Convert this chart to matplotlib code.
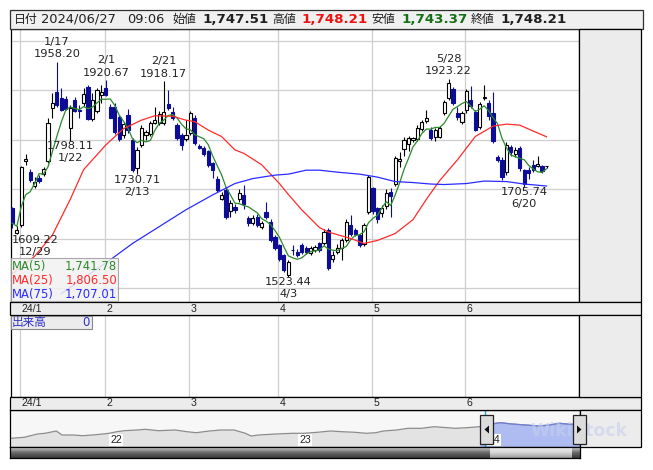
import numpy as np
import pandas as pd
import matplotlib
matplotlib.use('Agg')
import matplotlib.pyplot as plt
from matplotlib.patches import Rectangle, Polygon
from matplotlib.transforms import blended_transform_factory
from matplotlib.colors import LinearSegmentedColormap

plt.rcParams['font.family'] = ['DejaVu Sans', 'Noto Sans CJK JP']

# ---------------------------------------------------------------------
# data
# ---------------------------------------------------------------------
dates = ['2023-12-28', '2023-12-29',
         '2024-01-04', '2024-01-05', '2024-01-09', '2024-01-10', '2024-01-11', '2024-01-12',
         '2024-01-15', '2024-01-16', '2024-01-17', '2024-01-18', '2024-01-19', '2024-01-22',
         '2024-01-23', '2024-01-24', '2024-01-25', '2024-01-26', '2024-01-29', '2024-01-30',
         '2024-01-31',
         '2024-02-01', '2024-02-02', '2024-02-05', '2024-02-06', '2024-02-07', '2024-02-08',
         '2024-02-09', '2024-02-13', '2024-02-14', '2024-02-15', '2024-02-16', '2024-02-19',
         '2024-02-20', '2024-02-21', '2024-02-22', '2024-02-26', '2024-02-27', '2024-02-28',
         '2024-02-29',
         '2024-03-01', '2024-03-04', '2024-03-05', '2024-03-06', '2024-03-07', '2024-03-08',
         '2024-03-11', '2024-03-12', '2024-03-13', '2024-03-14', '2024-03-15', '2024-03-18',
         '2024-03-19', '2024-03-21', '2024-03-22', '2024-03-25', '2024-03-26', '2024-03-27',
         '2024-03-28', '2024-03-29',
         '2024-04-01', '2024-04-02', '2024-04-03', '2024-04-04', '2024-04-05', '2024-04-08',
         '2024-04-09', '2024-04-10', '2024-04-11', '2024-04-12', '2024-04-15', '2024-04-16',
         '2024-04-17', '2024-04-18', '2024-04-19', '2024-04-22', '2024-04-23', '2024-04-24',
         '2024-04-25', '2024-04-26', '2024-04-30',
         '2024-05-01', '2024-05-02', '2024-05-07', '2024-05-08', '2024-05-09', '2024-05-10',
         '2024-05-13', '2024-05-14', '2024-05-15', '2024-05-16', '2024-05-17', '2024-05-20',
         '2024-05-21', '2024-05-22', '2024-05-23', '2024-05-24', '2024-05-27', '2024-05-28',
         '2024-05-29', '2024-05-30', '2024-05-31',
         '2024-06-03', '2024-06-04', '2024-06-05', '2024-06-06', '2024-06-07', '2024-06-10',
         '2024-06-11', '2024-06-12', '2024-06-13', '2024-06-14', '2024-06-17', '2024-06-18',
         '2024-06-19', '2024-06-20', '2024-06-21', '2024-06-24', '2024-06-25', '2024-06-26',
         '2024-06-27']

opens = [1662, 1613,
         1628, 1757, 1736, 1707, 1724, 1731, 1758, 1865, 1896, 1884, 1882, 1824, 1881, 1860,
         1874, 1908, 1842, 1859, 1891,
         1906, 1867, 1867, 1847, 1810, 1850, 1800, 1743, 1790, 1810, 1812, 1835, 1834, 1834,
         1872, 1856, 1831, 1810, 1802,
         1814, 1845, 1787, 1783, 1777, 1753, 1721, 1681, 1698, 1657, 1665, 1680, 1688, 1642,
         1632, 1645, 1625, 1655, 1635, 1604,
         1587, 1567, 1527, 1578, 1574, 1587, 1581, 1571, 1577, 1591, 1591, 1618, 1560, 1574,
         1581, 1598, 1628, 1618, 1608, 1589, 1655,
         1703, 1662, 1652, 1667, 1694, 1712, 1757, 1781, 1792, 1799, 1801, 1822, 1838, 1820,
         1807, 1807, 1854, 1884, 1904, 1854, 1837,
         1860, 1881, 1857, 1827, 1884, 1874, 1854, 1765, 1760, 1736, 1785, 1771, 1784, 1739,
         1739, 1749, 1747, 1748, 1747.51]
highs = [1665, 1626,
         1748, 1772, 1741, 1725, 1729, 1746, 1844, 1894, 1958.20, 1905, 1888, 1870, 1886, 1870,
         1905, 1912, 1895, 1905, 1912,
         1920.67, 1873, 1875, 1850, 1836, 1862, 1803, 1785, 1830, 1820, 1838, 1867, 1858, 1918.17,
         1900, 1867, 1835, 1815, 1840,
         1859, 1850, 1792, 1787, 1780, 1756, 1728, 1695, 1702, 1678, 1670, 1700, 1709, 1647,
         1648, 1650, 1637, 1674, 1640, 1608,
         1590, 1570, 1558, 1587, 1580, 1591, 1585, 1585, 1588, 1594, 1620, 1622, 1575, 1590,
         1602, 1640, 1648, 1622, 1611, 1632, 1730,
         1706, 1665, 1668, 1700, 1702, 1768, 1775, 1806, 1808, 1806, 1830, 1840, 1861, 1826,
         1824, 1828, 1880, 1923.22, 1908, 1867, 1858,
         1903, 1910, 1860, 1876, 1911, 1880, 1897, 1770, 1765, 1795, 1790, 1785, 1788, 1742,
         1745, 1760, 1767, 1750, 1748.21]
lows = [1622, 1609.22,
        1624, 1750, 1715, 1704, 1714, 1728, 1753, 1845, 1866, 1858, 1860, 1798.11, 1856, 1844,
        1868, 1840, 1838, 1855, 1875,
        1888, 1845, 1812, 1798, 1805, 1815, 1735, 1730.71, 1785, 1800, 1808, 1832, 1830, 1830,
        1860, 1840, 1800, 1780, 1798,
        1810, 1790, 1781, 1768, 1746, 1724, 1694, 1678, 1640, 1645, 1652, 1675, 1660, 1626,
        1628, 1624, 1620, 1641, 1594, 1577,
        1555, 1533, 1523.44, 1567, 1563, 1570, 1570, 1567, 1573, 1574, 1588, 1538, 1553, 1570,
        1557, 1594, 1607, 1606, 1584, 1585, 1650,
        1650, 1633, 1645, 1660, 1645, 1708, 1745, 1768, 1778, 1796, 1798, 1818, 1835, 1800,
        1797, 1804, 1850, 1880, 1870, 1840, 1833,
        1855, 1865, 1818, 1822, 1880, 1840, 1793, 1755, 1720, 1730, 1768, 1765, 1738, 1705.74,
        1722, 1735, 1745, 1733, 1743.37]
closes = [1632, 1619,
          1745, 1762, 1719, 1716, 1718, 1741, 1834, 1874, 1871, 1861, 1863, 1865, 1859, 1858,
          1892, 1842, 1881, 1901, 1896,
          1891, 1845, 1817, 1802, 1832, 1820, 1739, 1780, 1825, 1817, 1834, 1840, 1852, 1857,
          1864, 1844, 1805, 1790, 1810,
          1854, 1794, 1784, 1771, 1750, 1740, 1698, 1689, 1645, 1672, 1658, 1692, 1671, 1632,
          1642, 1628, 1633, 1645, 1598, 1581,
          1560, 1537, 1554, 1577, 1567, 1574, 1574, 1581, 1584, 1577, 1615, 1542, 1568, 1581,
          1598, 1635, 1611, 1611, 1588, 1628, 1726,
          1656, 1640, 1662, 1693, 1687, 1763, 1761, 1800, 1803, 1803, 1824, 1836, 1844, 1803,
          1820, 1824, 1877, 1916, 1874, 1847, 1854,
          1898, 1868, 1820, 1872, 1887, 1848, 1797, 1760, 1726, 1790, 1775, 1780, 1743, 1712,
          1733, 1740, 1750.7, 1737, 1748.21]

# moving averages 25 / 75 read at sample days (index into dates)
ma25_idx = [0, 5, 9, 13, 16, 19, 21, 25, 29, 32, 36, 39, 41, 44, 47, 50, 52, 56, 60, 62,
            65, 69, 71, 76, 79, 82, 86, 90, 93, 96, 100, 104, 108, 111, 114, 117, 120]
ma25_val = [1530, 1565, 1608, 1680, 1740, 1770, 1790, 1823, 1840, 1849, 1848, 1840, 1837,
            1820, 1807, 1780, 1773, 1750, 1712, 1690, 1659, 1623, 1614, 1601, 1591, 1597,
            1611, 1639, 1680, 1718, 1760, 1807, 1828, 1832, 1830, 1818, 1806.50]
ma75_idx = [11, 17, 22, 27, 33, 39, 45, 50, 54, 59, 62, 66, 69, 73, 78, 82, 86, 90, 94,
            97, 102, 106, 111, 115, 120]
ma75_val = [1490, 1527, 1558, 1591, 1625, 1659, 1689, 1712, 1722, 1729, 1731, 1739, 1739,
            1735, 1731, 1725, 1716, 1714, 1711, 1710, 1712, 1717, 1716, 1711, 1707.01]

# high / low marks
mark_dates = ['2024-01-17', '2024-02-01', '2024-02-21', '2024-05-28',
              '2023-12-29', '2024-01-22', '2024-02-13', '2024-04-03', '2024-06-20']
mark_kind = ['high', 'high', 'high', 'high', 'low', 'low', 'low', 'low', 'low']

month_labels = ['24/1', '2', '3', '4', '5', '6']
price_ticks = [1500, 1600, 1700, 1800, 1900, 2000]

# navigator (long history, height above the panel floor)
nav_t = [2021.48, 2021.55, 2021.62, 2021.66, 2021.72, 2021.75, 2021.81, 2021.86, 2021.93,
         2022.00, 2022.04, 2022.08, 2022.15, 2022.19, 2022.26, 2022.35, 2022.41, 2022.46,
         2022.53, 2022.59, 2022.66, 2022.72, 2022.75, 2022.79, 2022.88, 2022.97, 2023.03,
         2023.10, 2023.17, 2023.23, 2023.30, 2023.36, 2023.41, 2023.45, 2023.52, 2023.58,
         2023.65, 2023.72, 2023.76, 2023.83, 2023.89, 2023.96, 2024.02, 2024.07, 2024.13,
         2024.20, 2024.27, 2024.33, 2024.38, 2024.44, 2024.49]
nav_v = [8.7, 9.7, 13, 13.7, 16, 12, 12, 11.3, 12.3, 13.7, 15.3, 16.3, 17, 17.7, 16.3, 17,
         15.3, 14.3, 16, 17, 17, 13.7, 11, 12, 13, 13.7, 13.7, 14.7, 16, 15.3, 14.7, 13.7,
         14.3, 16, 17, 18.7, 18.7, 20.3, 19.7, 18.7, 19.3, 20.3, 23, 24.3, 23, 22, 21, 22,
         23.7, 22.7, 23]
nav_years = ['22', '23', '24']

header = [('日付', None), ('2024/06/27', None), ('09:06', None),
          ('始値', None), ('1,747.51', 'black'), ('高値', None), ('1,748.21', 'red'),
          ('安値', None), ('1,743.37', 'green'), ('終値', None), ('1,748.21', 'black')]

# ---------------------------------------------------------------------
# prep
# ---------------------------------------------------------------------
df = pd.DataFrame({'date': pd.to_datetime(dates), 'open': opens, 'high': highs,
                   'low': lows, 'close': closes})
df['x'] = np.arange(len(df)) - 1          # 12/29 sits at x = 0
df['ma5'] = df['close'].rolling(5, min_periods=1).mean()
up = df['close'] >= df['open']
month_first = df.groupby(df['date'].dt.to_period('M'))['x'].min().values[1:]

W, H = 653, 470
fig = plt.figure(figsize=(W / 100, H / 100), dpi=100)
fig.patch.set_facecolor('white')


def frac(x0, y0, x1, y1):
    return [x0 / W, 1 - y1 / H, (x1 - x0) / W, (y1 - y0) / H]


def box(x0, y0, x1, y1, **kw):
    r = Rectangle((x0 / W, 1 - y1 / H), (x1 - x0) / W, (y1 - y0) / H,
                  transform=fig.transFigure, **kw)
    fig.add_artist(r)
    return r


def ftext(x, y, s, **kw):
    return fig.text(x / W, 1 - y / H, s, **kw)


GREEN, RED, BLUE, NAVY = '#2b8a2b', '#ff2b2b', '#2b2bff', '#0c0c96'
GRID = '#cfcfcf'
PANEL = '#ececec'

# ---------------------------------------------------------------------
# header
# ---------------------------------------------------------------------
box(10, 10, 643, 28.5, facecolor='#f0f0f0', edgecolor='#303030', lw=0.9)
hx = [13.5, 41.5, 127.5, 172.5, 202, 272.5, 301, 371.5, 401, 471, 500]
hcol = {'black': '#202020', 'red': '#ee1111', 'green': '#157015'}
for (s, c), x in zip(header, hx):
    if c is None and not s[0].isdigit():
        ftext(x, 19.5, s, fontsize=8.6, va='center', color='#202020')
    elif c is None:
        ftext(x, 19.5, s, fontsize=9.4, va='center', color='#202020')
    else:
        ftext(x, 19.5, s, fontsize=9.6, va='center', color=hcol[c], fontweight='bold')

# ---------------------------------------------------------------------
# main chart
# ---------------------------------------------------------------------
XL = (-1.42, 126.3)
box(579, 29, 641, 302, facecolor=PANEL, edgecolor='black', lw=0.9)
ax = fig.add_axes(frac(10.5, 29, 579, 302))
ax.set_xlim(*XL)
ax.set_ylim(1472.7, 2024.2)
ax.set_yticks(price_ticks)
ax.set_yticklabels([str(p) for p in price_ticks])
ax.yaxis.tick_right()
ax.tick_params(axis='y', length=0, pad=3, labelsize=8.3, labelcolor='#222222')
ax.set_xticks([])
ax.grid(axis='y', color=GRID, lw=0.9)
for m in month_first:
    ax.axvline(m - 0.3, color=GRID, lw=0.9, zorder=0)
for s in ax.spines.values():
    s.set_linewidth(0.9)

d_up, d_dn = df[up], df[~up]
ax.vlines(d_up['x'], d_up['low'], d_up['high'], color='black', lw=0.8, zorder=2)
ax.vlines(d_dn['x'], d_dn['low'], d_dn['high'], color=NAVY, lw=0.8, zorder=2)
ax.bar(d_up['x'], d_up['close'] - d_up['open'], bottom=d_up['open'], width=0.72,
       facecolor='white', edgecolor='black', lw=0.8, zorder=3)
ax.bar(d_dn['x'], d_dn['open'] - d_dn['close'], bottom=d_dn['close'], width=0.72,
       facecolor=NAVY, edgecolor=NAVY, lw=0.8, zorder=3)

ax.plot(df['x'], df['ma5'], color=GREEN, lw=0.9, zorder=4)
ax.plot(df['x'].values[ma25_idx], ma25_val, color=RED, lw=0.9, zorder=4)
ax.plot(df['x'].values[ma75_idx], ma75_val, color=BLUE, lw=0.9, zorder=4)

for d, k in zip(mark_dates, mark_kind):
    row = df[df['date'] == pd.Timestamp(d)].iloc[0]
    v = row['high'] if k == 'high' else row['low']
    lab = f"{row['date'].month}/{row['date'].day}"
    dx = 18 if row['x'] == 0 else 0
    if k == 'high':
        offs = [(dx, 7.5, f'{v:.2f}'), (dx, 20, lab)]
    else:
        offs = [(dx, -5.5, f'{v:.2f}'), (dx, -17.5, lab)]
    for ox, oy, s in offs:
        ax.annotate(s, (row['x'], v), xytext=(ox, oy), textcoords='offset pixels',
                    ha='center', va='center', fontsize=8.2, color='#222222', zorder=5)

# MA legend box
box(10.5, 258, 118, 301, facecolor='#f2f2f2', alpha=0.85, edgecolor='#9a9a9a',
    lw=0.8, zorder=5)
ma_last = [df['ma5'].iloc[-1], ma25_val[-1], ma75_val[-1]]
for k, (name, col, val) in enumerate(zip(['MA(5)', 'MA(25)', 'MA(75)'],
                                         [GREEN, RED, BLUE], ma_last)):
    yy = 266.5 + 14.2 * k
    ftext(12, yy, name, fontsize=8.4, color=col, va='center', zorder=6)
    ftext(117, yy, f'{val:,.2f}', fontsize=8.4, color=col, va='center', ha='right', zorder=6)

# ---------------------------------------------------------------------
# month bands
# ---------------------------------------------------------------------
trans = blended_transform_factory(ax.transData, fig.transFigure)
for y0, y1 in [(302, 315), (397, 410)]:
    box(10, y0, 641, y1, facecolor=PANEL, edgecolor='black', lw=0.9)
    for m, lab in zip(month_first, month_labels):
        fig.text(m + 0.05, 1 - (y0 + y1) / 2 / H, lab, transform=trans, fontsize=7.6,
                 va='center', ha='left', color='#222222', zorder=6,
                 family=['Liberation Sans', 'DejaVu Sans'])

# ---------------------------------------------------------------------
# volume panel (empty)
# ---------------------------------------------------------------------
box(579, 315, 641, 397, facecolor=PANEL, edgecolor='black', lw=0.9)
axv = fig.add_axes(frac(10.5, 315, 579, 397))
axv.set_xlim(*XL)
axv.set_ylim(0, 1)
axv.set_xticks([])
axv.set_yticks([])
for m in month_first:
    axv.axvline(m - 0.3, color=GRID, lw=0.9)
for s in axv.spines.values():
    s.set_linewidth(0.9)
box(10.5, 315.5, 92, 329, facecolor='#ececec', edgecolor='#8a8a8a', lw=0.8, zorder=5)
ftext(12, 322.5, '出来高', fontsize=8.4, color='#3030c8', va='center', zorder=6)
ftext(90, 322.5, '0', fontsize=8.4, color='#3030c8', va='center', ha='right', zorder=6)

# ---------------------------------------------------------------------
# navigator
# ---------------------------------------------------------------------
box(580, 410, 641, 447, facecolor=PANEL, edgecolor='black', lw=0.9)
axn = fig.add_axes(frac(10, 410, 580, 447))
axn.set_facecolor('#f7f7f7')
axn.set_xlim(nav_t[0] - 0.005, nav_t[-1])
axn.set_ylim(0, 37)
axn.set_xticks([])
axn.set_yticks([])
for s in axn.spines.values():
    s.set_linewidth(0.9)
t0 = df['date'].iloc[0]
sel_start = t0.year + (t0.dayofyear - 1) / 366
nt, nv = np.array(nav_t), np.array(nav_v)
axn.fill_between(nt, 0, nv, color='#e3e3e3', lw=0)
axn.plot(nt, nv, color='#8c8c8c', lw=0.9)
sel = nt >= sel_start - 0.03
axn.fill_between(nt[sel], 0, nv[sel], color='#a9b8f4', lw=0, alpha=0.9)
axn.plot(nt[sel], nv[sel], color='#6f7fd8', lw=0.9)
axn.axvline(sel_start, color='#20a8e0', lw=1)
axn.axvline(nav_t[-1] - 0.001, color='#20a8e0', lw=1)
for k, lab in enumerate(nav_years):
    axn.text(2022 + k + 0.005, 7, lab, fontsize=7.6, ha='left', va='center',
             color='#222222', family=['Liberation Sans', 'DejaVu Sans'],
             bbox=dict(facecolor='white', edgecolor='none', pad=0.6))
# faint watermark
ftext(530, 431, 'WikiStock', fontsize=12.5, color='#c6cfee', alpha=0.6,
      fontweight='bold', ha='left', va='center', zorder=6)

# handles
for hx0, pts in [(480, [(489, 425.5), (489, 433.5), (484.5, 429.5)]),
                 (573, [(577, 425.5), (577, 433.5), (581.5, 429.5)])]:
    box(hx0, 415, hx0 + 13, 444, facecolor='#dcdcdc', edgecolor='#222222', lw=0.9, zorder=7)
    tri = Polygon([(px / W, 1 - py / H) for px, py in pts], closed=True,
                  transform=fig.transFigure, facecolor='#111111', edgecolor='none', zorder=8)
    fig.add_artist(tri)

# scrollbar
axs = fig.add_axes(frac(10, 447, 580, 458))
dark = LinearSegmentedColormap.from_list('d', ['#3a3a3a', '#6a6a6a', '#d0d0d0'])
light = LinearSegmentedColormap.from_list('l', ['#9a9a9a', '#d6d6d6', '#f0f0f0'])
grad = np.linspace(0, 1, 32).reshape(-1, 1)
axs.imshow(grad, aspect='auto', cmap=dark, extent=[nav_t[0] - 0.005, nav_t[-1], 0, 1],
           origin='lower')
axs.imshow(grad, aspect='auto', cmap=light, extent=[sel_start + 0.03, nav_t[-1] - 0.04, 0, 1],
           origin='lower', zorder=2)
axs.set_xlim(nav_t[0] - 0.005, nav_t[-1])
axs.set_ylim(0, 1)
axs.set_xticks([])
axs.set_yticks([])
for s in axs.spines.values():
    s.set_linewidth(0.9)

fig.savefig('out.png', dpi=100)
